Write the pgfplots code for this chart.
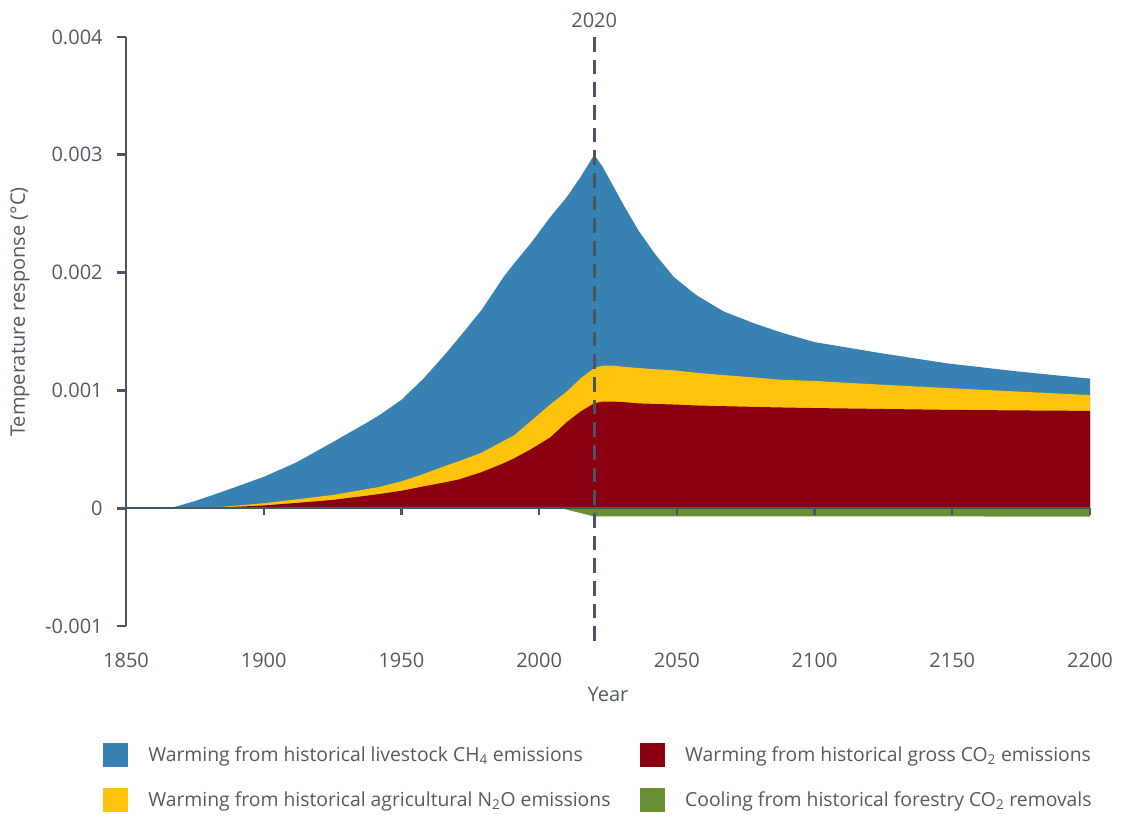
\documentclass[border=0pt]{standalone}
\usepackage{pgfplots}
\pgfplotsset{compat=1.18}
\usepackage{pgfplotstable}
\usepackage{fontspec}
\setmainfont{Open Sans}
\definecolor{cblue}{HTML}{3782B2}
\definecolor{cred}{HTML}{8A0012}
\definecolor{cyellow}{HTML}{FFC30E}
\definecolor{cgreen}{HTML}{6A8E34}
\definecolor{cgray}{HTML}{4B5561}
\definecolor{ctext}{HTML}{505A64}

% year, total (top of blue), top of yellow, top of red
\pgfplotstableread{
year T Y R
1850 0 0 0
1866 0 0 0
1875 0.00006 0.000005 0.000003
1885 0.00014 0.000012 0.000007
1900 0.000266 0.000042 0.000023
1912 0.00039 0.000075 0.000045
1925 0.00056 0.000112 0.00007
1937 0.00072 0.00016 0.000105
1942 0.00079 0.00018 0.00012
1950 0.00092 0.000228 0.000148
1958 0.00110 0.00029 0.000185
1966 0.00131 0.00036 0.00022
1971 0.00145 0.0004 0.000245
1979 0.00168 0.00047 0.000305
1987 0.00196 0.00057 0.00038
1991 0.00208 0.00062 0.000424
1997 0.00225 0.00074 0.0005
2004 0.00247 0.00088 0.0006
2010 0.00264 0.00099 0.00073
2015 0.00281 0.00110 0.00082
2020 0.00300 0.00119 0.00089
2023 0.00290 0.00121 0.000905
2027 0.00273 0.00121 0.000905
2031 0.00256 0.00120 0.0009
2036 0.00236 0.00119 0.00089
2042 0.00216 0.00118 0.000885
2049 0.00196 0.00117 0.00088
2057 0.00181 0.00115 0.000872
2067 0.00167 0.00113 0.000866
2078 0.00157 0.00111 0.00086
2088 0.00149 0.00109 0.000855
2100 0.00141 0.00108 0.00085
2123 0.00132 0.00105 0.000843
2148 0.00123 0.00102 0.000835
2174 0.00116 0.00099 0.00083
2200 0.00110 0.00096 0.000826
}\datatab

\pgfplotstableread{
year G
1850 0
2008 0
2020 -0.00007
2050 -0.00007
2100 -0.00007
2150 -0.00007
2200 -0.000072
}\greentab

\begin{document}
\begin{tikzpicture}
\path[use as bounding box] (0,0) rectangle (840.75pt,610.5pt);
\begin{axis}[
  at={(94.5pt,141pt)}, anchor=south west,
  scale only axis, width=723pt, height=441.75pt,
  xmin=1850, xmax=2200, ymin=-0.001, ymax=0.004,
  axis x line=bottom, axis y line=left,
  x axis line style={draw=none},
  y axis line style={cgray, line width=2pt, -},
  xtick={1850,1900,...,2200},
  xticklabels={1850,1900,1950,2000,2050,2100,2150,2200},
  ytick={-0.001,0,0.001,0.002,0.003,0.004},
  yticklabels={-0.001,0,0.001,0.002,0.003,0.004},
  scaled y ticks=false, scaled x ticks=false,
  x tick style={draw=none},
  y tick style={cgray, line width=2pt},
  tick align=outside, major tick length=7pt,
  /pgf/number format/assume math mode=true,
  ticklabel style={font=\fontsize{15}{18}\selectfont, text=ctext},
  xticklabel style={yshift=-10pt},
  yticklabel style={xshift=-7pt},
  xlabel={Year}, ylabel={Temperature response (°C)},
  label style={font=\fontsize{15}{18}\selectfont, text=ctext},
  xlabel style={at={(axis description cs:0.5,-0.117)}, anchor=center},
  ylabel style={at={(axis description cs:-0.110,0.533)}, anchor=center},
  legend columns=2,
  legend cell align=left,
  legend image code/.code={\fill[#1] (0pt,-9pt) rectangle (19pt,9pt);},
  legend style={draw=none, fill=none, at={(axis description cs:-0.0239,-0.1986)},
    anchor=north west, inner sep=0pt, outer sep=0pt,
    font=\fontsize{14.5}{17}\selectfont, text=ctext,
    row sep=16pt,
    /tikz/every odd column/.append style={column sep=13pt},
    /tikz/every even column/.append style={column sep=20pt}},
]
\addlegendimage{fill=cblue, draw=none}
\addlegendentry{Warming from historical livestock CH\textsubscript{4} emissions}
\addlegendimage{fill=cred, draw=none}
\addlegendentry{Warming from historical gross CO\textsubscript{2} emissions}
\addlegendimage{fill=cyellow, draw=none}
\addlegendentry{Warming from historical agricultural N\textsubscript{2}O emissions}
\addlegendimage{fill=cgreen, draw=none}
\addlegendentry{Cooling from historical forestry CO\textsubscript{2} removals}

\addplot[fill=cblue, draw=none, forget plot] table[x=year, y=T] {\datatab} \closedcycle;
\addplot[fill=cyellow, draw=none, forget plot] table[x=year, y=Y] {\datatab} \closedcycle;
\addplot[fill=cred, draw=none, forget plot] table[x=year, y=R] {\datatab} \closedcycle;
\addplot[fill=cgreen, draw=none, forget plot] table[x=year, y=G] {\greentab} \closedcycle;
\end{axis}

\begin{axis}[
  at={(94.5pt,141pt)}, anchor=south west,
  scale only axis, width=723pt, height=441.75pt,
  xmin=1850, xmax=2200, ymin=-0.001, ymax=0.004,
  axis x line=middle, axis y line=none,
  x axis line style={cgray, line width=1.8pt, -},
  xtick={1900,1950,...,2200}, xticklabels={},
  x tick style={cgray, line width=1.8pt},
  tick align=outside, major tick length=5pt,
  clip=false,
]
\addplot[cgray, line width=2.25pt, dash pattern=on 11pt off 6pt] coordinates {(2020,0.004) (2020,-0.00114)};
\node[anchor=south, inner sep=0pt, text=ctext, font=\fontsize{15}{18}\selectfont, yshift=7pt] at (axis cs:2020,0.004) {2020};
\end{axis}
\end{tikzpicture}
\end{document}
